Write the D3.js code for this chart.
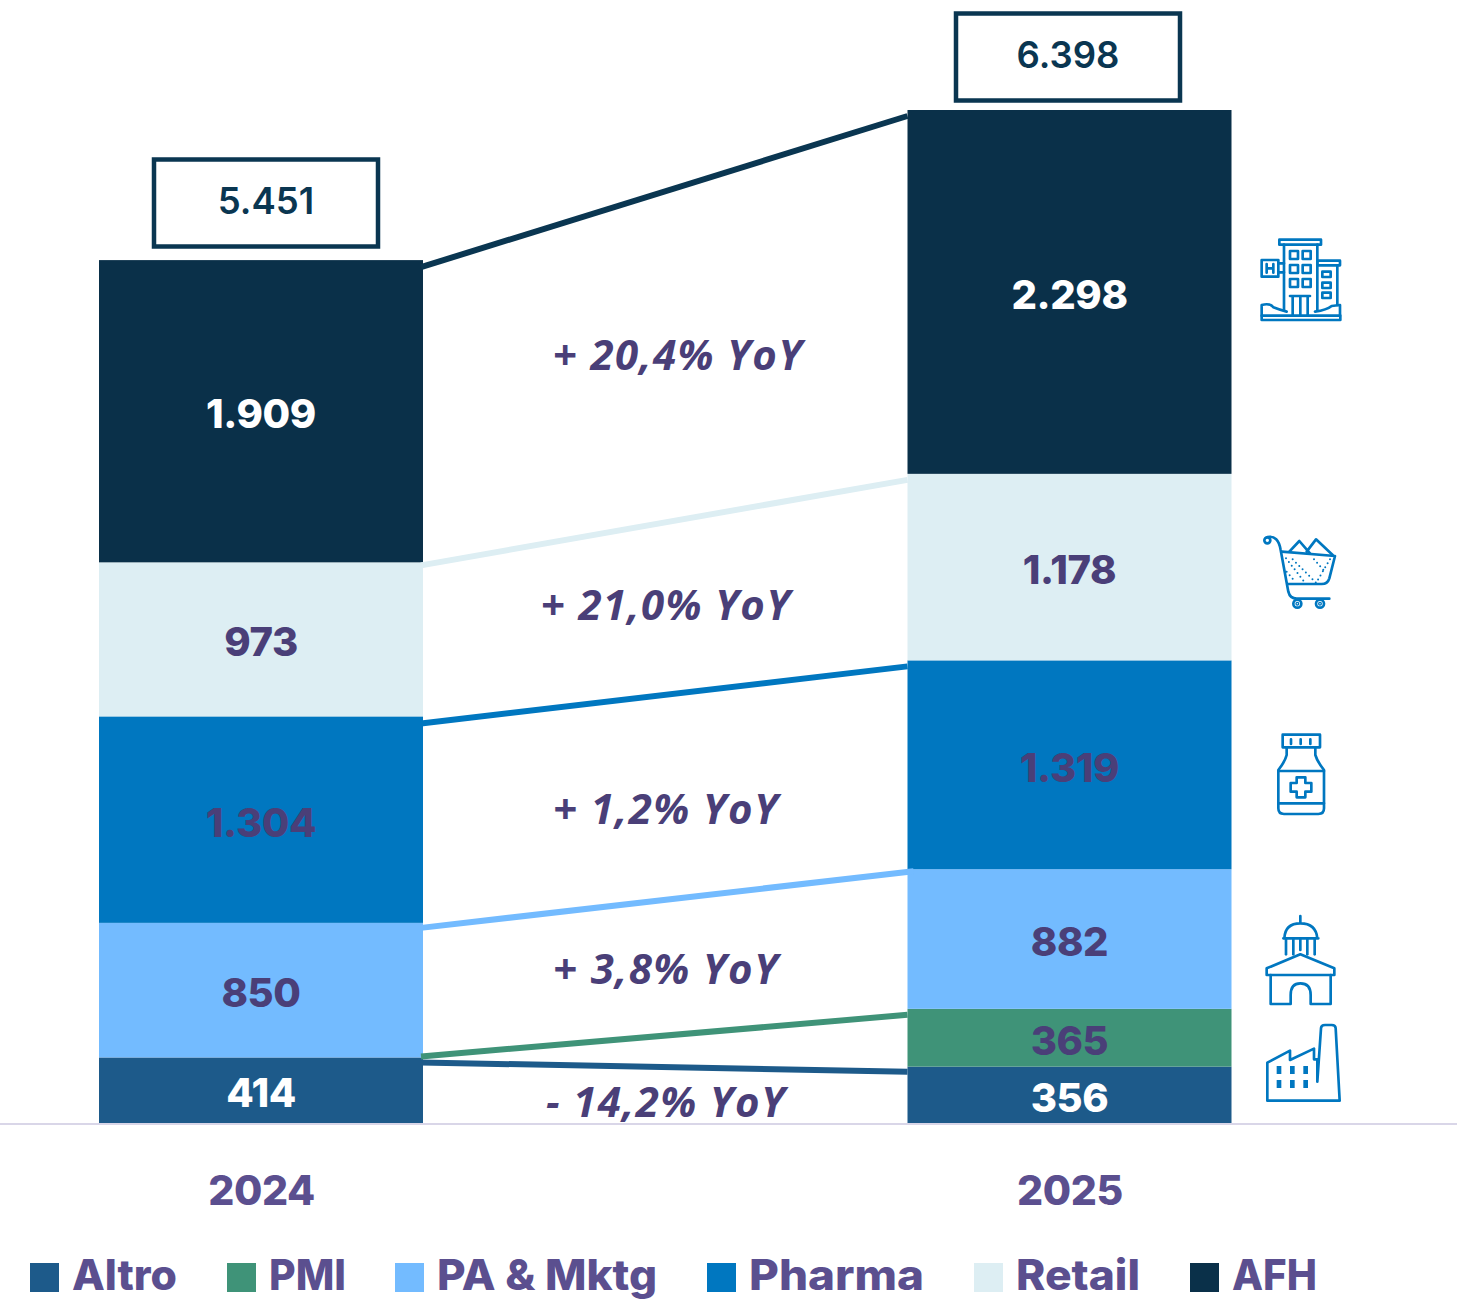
<!DOCTYPE html>
<html>
<head>
<meta charset="utf-8">
<script src="https://cdn.jsdelivr.net/npm/d3@7"></script>
<style>
  html, body { margin: 0; padding: 0; background: #fff; }
  svg { display: block; }
  text { font-family: Inter, "Noto Sans", sans-serif; }
</style>
</head>
<body>
<div id="chart"></div>
<script>
const years = ["2024", "2025"];
const segments = ["Altro", "PMI", "PA & Mktg", "Pharma", "Retail", "AFH"];
const values2024 = [414, 0, 850, 1304, 973, 1909];
const values2025 = [356, 365, 882, 1319, 1178, 2298];
const labels2024 = ["414", "", "850", "1.304", "973", "1.909"];
const labels2025 = ["356", "365", "882", "1.319", "1.178", "2.298"];
const totals = ["5.451", "6.398"];
const yoyLabels = ["- 14,2% YoY", "+ 3,8% YoY", "+ 1,2% YoY", "+ 21,0% YoY", "+ 20,4% YoY"];

const COLORS = ["#1d5a8a", "#3f9378", "#73bbff", "#0077c0", "#ddeef3", "#0a3049"];
const LABEL_COLORS = ["#fff", "#4a3f78", "#4a3f78", "#4a3f78", "#4a3f78", "#fff"];
const INK = "#4a3f78";
const LEGEND_INK = "#5b4f8f";
const ICON_BLUE = "#0077c0";

const width = 1457, height = 1300;
const barWidth = 324;

const svg = d3.select("#chart").append("svg")
  .attr("width", width)
  .attr("height", height)
  .attr("viewBox", `0 0 ${width} ${height}`);

const x = d3.scalePoint().domain(years).range([261, 1069.5]);
const y = d3.scaleLinear().domain([0, 6398]).range([1123, 110]);

const cum = values => { let s = 0; return values.map(v => [s, s += v]); };
const stacks = { "2024": cum(values2024), "2025": cum(values2025) };
const labels = { "2024": labels2024, "2025": labels2025 };

// stacked bars
years.forEach(year => {
  const g = svg.append("g");
  stacks[year].forEach(([y0, y1], i) => {
    if (y1 === y0) return;
    g.append("rect")
      .attr("x", x(year) - barWidth / 2)
      .attr("width", barWidth)
      .attr("y", y(y1))
      .attr("height", y(y0) - y(y1))
      .attr("fill", COLORS[i]);
  });
});

// connector lines between the two columns, drawn over the bar edges
const dropLeft = [5, -1, 5, 7, 3, 7];
const dropRight = [5, 6, 2, 6, 6, 6];
const connectors = svg.append("g");
segments.forEach((name, i) => {
  connectors.append("line")
    .attr("x1", x("2024") + barWidth / 2 - 2)
    .attr("x2", x("2025") - barWidth / 2 + (i === 2 ? 6 : 0))
    .attr("y1", y(stacks["2024"][i][1]) + dropLeft[i])
    .attr("y2", y(stacks["2025"][i][1]) + dropRight[i])
    .attr("stroke", i === 5 ? "#0a3651" : COLORS[i])
    .attr("stroke-width", 6);
});

// bar value labels
years.forEach(year => {
  stacks[year].forEach(([y0, y1], i) => {
    if (y1 === y0) return;
    svg.append("text")
      .attr("x", x(year))
      .attr("y", (y(y0) + y(y1)) / 2 + 17)
      .attr("text-anchor", "middle")
      .attr("font-size", 40)
      .attr("font-weight", 800)
      .attr("letter-spacing", -0.4)
      .attr("fill", LABEL_COLORS[i])
      .text(labels[year][i]);
  });
});

// baseline
svg.append("line")
  .attr("x1", 0).attr("x2", width)
  .attr("y1", y(0) + 1).attr("y2", y(0) + 1)
  .attr("stroke", "#d9d6e8")
  .attr("stroke-width", 2);

// year axis
const axis = svg.append("g")
  .attr("transform", `translate(0,${y(0)})`)
  .call(d3.axisBottom(x).tickSize(0).tickPadding(53));
axis.select(".domain").remove();
axis.selectAll("text")
  .style("font-family", "Inter, sans-serif")
  .attr("font-size", 41)
  .attr("font-weight", 800)
  .attr("letter-spacing", -0.4)
  .attr("fill", LEGEND_INK);

// totals in boxes
const boxCenters = [266, 1068];
const boxTops = [159, 13];
years.forEach((year, i) => {
  svg.append("rect")
    .attr("x", boxCenters[i] - 112).attr("width", 224)
    .attr("y", boxTops[i] + 0.5).attr("height", 87)
    .attr("fill", "#fff")
    .attr("stroke", "#0a3651")
    .attr("stroke-width", 4.5);
  svg.append("text")
    .attr("x", boxCenters[i])
    .attr("y", boxTops[i] + 55)
    .attr("text-anchor", "middle")
    .attr("font-size", 36.5)
    .attr("font-weight", 600)
    .attr("fill", "#0a3651")
    .text(totals[i]);
});

// YoY notes
const yoyX = [666, 666, 666, 666, 678];
const yoyY = [1117, 984, 824, 620, 370];
yoyLabels.forEach((t, i) => {
  svg.append("text")
    .attr("x", yoyX[i])
    .attr("y", yoyY[i])
    .attr("text-anchor", "middle")
    .attr("font-size", 42)
    .attr("font-style", "italic")
    .attr("font-weight", 700)
    .attr("letter-spacing", 1.4)
    .style("font-family", "'Open Sans', sans-serif")
    .attr("fill", INK)
    .text(t);
});

// legend
const legendX = [30, 227, 395, 707, 974, 1190];
const legendTextWidths = [105, 77, 220, 175, 124, 85];
segments.forEach((name, i) => {
  svg.append("rect")
    .attr("x", legendX[i]).attr("y", 1263)
    .attr("width", 29).attr("height", 29)
    .attr("fill", COLORS[i]);
  svg.append("text")
    .attr("x", legendX[i] + 42).attr("y", 1290)
    .attr("font-size", 42)
    .attr("font-weight", 800)
    .attr("textLength", legendTextWidths[i])
    .attr("lengthAdjust", "spacingAndGlyphs")
    .attr("fill", LEGEND_INK)
    .text(name);
});

// sector icons, traced in 3x crop coordinates
function iconGroup(dx, dy) {
  return svg.append("g")
    .attr("transform", `translate(${dx},${dy}) scale(${1 / 3})`)
    .attr("fill", "none")
    .attr("stroke", ICON_BLUE)
    .attr("stroke-width", 8)
    .attr("stroke-linejoin", "round")
    .attr("stroke-linecap", "round");
}
const addPath = (g, d) => g.append("path").attr("d", d);
const addRect = (g, rx, ry, w, h) => g.append("rect").attr("x", rx).attr("y", ry).attr("width", w).attr("height", h);

// hotel
const hotel = iconGroup(1240, 220);
addRect(hotel, 118, 59, 125, 15);
addPath(hotel, "M132,74V272M232,74V272");
[[150, 93], [188, 93], [150, 135], [188, 135], [150, 177], [188, 177]].forEach(p => addRect(hotel, p[0], p[1], 24, 24));
addPath(hotel, "M150,228H210M158,228V285M181,228V285M203,228V285");
addRect(hotel, 232, 122, 68, 14);
addPath(hotel, "M292,136V255");
[155, 188, 218].forEach(w => addRect(hotel, 247, w, 25, 16));
addRect(hotel, 65, 120, 50, 50);
addPath(hotel, "M80,132V158M100,132V158M80,145H100M115,130H132M115,157H132");
addRect(hotel, 65, 287, 236, 13);
addPath(hotel, "M65,287V255Q90,248 100,262Q120,270 140,275M225,275Q260,270 275,258L300,255V287");

// cart
const cart = iconGroup(1240, 220);
cart.append("circle").attr("cx", 82).attr("cy", 961).attr("r", 9);
addPath(cart, "M82,951Q115,945 122,990L145,1115Q150,1136 170,1136H268");
addPath(cart, "M125,995L285,1008L268,1075Q263,1092 245,1092H142");
addPath(cart, "M148,995L178,963L210,1000M200,995L228,958L278,1005");
[172, 240].forEach(cx => {
  cart.append("circle").attr("cx", cx).attr("cy", 1151).attr("r", 12);
  cart.append("circle").attr("cx", cx).attr("cy", 1151).attr("r", 2);
});
cart.append("path")
  .attr("d", "M138,1015L195,1088M158,1018L228,1088M222,1018L252,1052M270,1018L232,1082M140,1055L165,1085")
  .attr("stroke-width", 6)
  .attr("stroke-dasharray", "0 14");

// bottle
const bottle = iconGroup(1240, 720);
addRect(bottle, 128, 44, 112, 38);
addPath(bottle, "M153,58V72M182,58V72M211,58V72");
addPath(bottle, "M140,82V105Q135,125 115,150V265Q115,282 132,282H235Q252,282 252,265V150Q232,125 226,105V82");
addPath(bottle, "M115,153H252M115,250H252");
addPath(bottle, "M170,172H196V189H214V215H196V232H170V215H152V189H170Z");

// public building
const capitol = iconGroup(1240, 720);
addPath(capitol, "M181,588V610M133,655Q135,610 181,610Q228,610 232,655M130,655H235");
[138, 160, 181, 202, 224].forEach(cx => addPath(capitol, `M${cx},655V${cx === 181 ? 690 : 703}`));
addPath(capitol, "M80,765V745L181,703L283,745V765Z");
addPath(capitol, "M92,765V852H152V825Q152,790 181,790Q212,790 212,825V852H272V765");

// factory
const factory = iconGroup(1240, 720);
addPath(factory, "M82,1142V1028L150,992V1020L222,986V1018H232V1085L243,925Q243,915 255,915H275Q287,915 287,925L299,1142Z");
[110, 150, 190].forEach(wx => [1038, 1080].forEach(wy => {
  factory.append("rect").attr("x", wx).attr("y", wy).attr("width", 14).attr("height", 24)
    .attr("fill", ICON_BLUE).attr("stroke", "none");
}));
</script>
</body>
</html>
